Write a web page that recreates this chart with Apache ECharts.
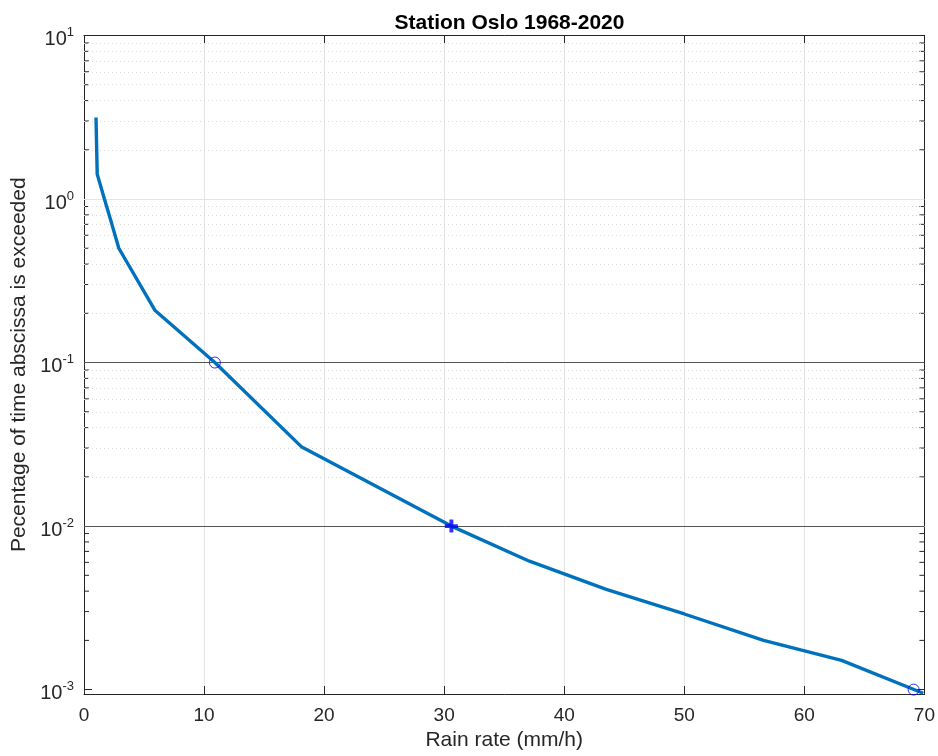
<!DOCTYPE html>
<html>
<head>
<meta charset="utf-8">
<script src="https://cdn.jsdelivr.net/npm/echarts@6/dist/echarts.min.js"></script>
<style>
html,body{margin:0;padding:0;background:#fff;}
#chart{width:938px;height:756px;}
</style>
</head>
<body>
<div id="chart"></div>
<script>
// ---- data ----
const rainRate = [1.0, 1.1, 1.7, 2.3, 2.9, 5.9, 10.9, 18.1, 30.6, 37.1, 43.5, 50.0, 56.6, 63.1, 69.9];
const percentExceeded = [3.15, 1.42, 1.0, 0.71, 0.50, 0.209, 0.1, 0.0306, 0.01, 0.0061, 0.0041, 0.0029, 0.0020, 0.00151, 0.00095];
const circlePoints = [[10.9, 0.1], [69.1, 0.001]];
const plusPoints = [[30.6, 0.01]];
const xTicks = [0, 10, 20, 30, 40, 50, 60, 70];
const decadeLines = [0.001, 0.01, 0.1];
const lightMajor = [1];
const minorGrid = [];
[0.001, 0.01, 0.1, 1].forEach(function (d) {
  [2, 3, 4, 5, 6, 7, 8, 9].forEach(function (m) { minorGrid.push(+(d * m).toPrecision(3)); });
});

const FONT = 'Liberation Sans, Arial, Helvetica, sans-serif';
const AX = '#262626';

const chart = echarts.init(document.getElementById('chart'));

function yLabel(v) {
  const e = Math.log10(v);
  const r = Math.round(e);
  if (Math.abs(e - r) > 1e-6) return '';
  return '{b|10}{s|' + r + '}';
}

const option = {
  animation: false,
  backgroundColor: '#ffffff',
  title: {
    text: 'Station Oslo 1968-2020',
    left: 504.5, textAlign: 'center', top: 8,
    textStyle: { fontFamily: FONT, fontSize: 21, fontWeight: 'bold', color: '#000' }
  },
  grid: { left: 84, right: 13, top: 35.5, bottom: 57, containLabel: false },
  xAxis: [{
    type: 'value', min: xTicks[0], max: xTicks[xTicks.length - 1], interval: 10, position: 'bottom',
    name: 'Rain rate (mm/h)', nameLocation: 'middle', nameGap: 36,
    nameTextStyle: { fontFamily: FONT, fontSize: 21, color: AX },
    axisLine: { show: true, onZero: false, lineStyle: { color: AX, width: 1 } },
    axisTick: { show: true, inside: true, length: 8, lineStyle: { color: AX } },
    axisLabel: { fontFamily: FONT, fontSize: 19, color: AX, margin: 12 },
    splitLine: { show: true, lineStyle: { color: '#e3e3e3', width: 1 } }
  }, {
    type: 'value', min: xTicks[0], max: xTicks[xTicks.length - 1], interval: 10, position: 'top',
    axisLine: { show: true, onZero: false, lineStyle: { color: AX, width: 1 } },
    axisTick: { show: true, inside: true, length: 8, lineStyle: { color: AX } },
    axisLabel: { show: false },
    splitLine: { show: false }
  }],
  yAxis: [{
    type: 'log', logBase: 10, min: 0.00094, max: 10, position: 'left',
    name: 'Pecentage of time abscissa is exceeded', nameLocation: 'middle', nameGap: 51,
    nameTextStyle: { fontFamily: FONT, fontSize: 21, color: AX },
    axisLine: { show: true, onZero: false, lineStyle: { color: AX, width: 1 } },
    axisTick: { show: true, inside: true, length: 8, lineStyle: { color: AX } },
    axisLabel: {
      formatter: yLabel, margin: 10,
      rich: {
        b: { fontFamily: FONT, fontSize: 20, color: AX, padding: [8, 0, 0, 0] },
        s: { fontFamily: FONT, fontSize: 13, color: AX, padding: [0, 0, 6, 0] }
      }
    },
    splitLine: { show: false }
  }, {
    type: 'log', logBase: 10, min: 0.00094, max: 10, position: 'right',
    axisLine: { show: true, onZero: false, lineStyle: { color: AX, width: 1 } },
    axisTick: { show: true, inside: true, length: 8, lineStyle: { color: AX } },
    axisLabel: { show: false },
    splitLine: { show: false }
  }],
  series: [
    {
      type: 'line', name: 'grid', data: [], silent: true, z: 1,
      markLine: {
        silent: true, symbol: 'none', label: { show: false }, animation: false,
        data: minorGrid.map(function (v) {
          return { yAxis: v, lineStyle: { color: '#d6d6d6', type: [1, 3], width: 1 } };
        }).concat(lightMajor.map(function (v) {
          return { yAxis: v, lineStyle: { color: '#e3e3e3', type: 'solid', width: 1 } };
        }))
      }
    },
    {
      type: 'custom', name: 'minorTicks', silent: true, z: 3, clip: false,
      data: minorGrid.map(function (v) { return [0, v]; }),
      renderItem: function (params, api) {
        const v = api.value(1);
        const p = api.coord([0, v]);
        const q = api.coord([70, v]);
        return {
          type: 'group',
          children: [
            { type: 'line', shape: { x1: p[0], y1: p[1], x2: p[0] + 5, y2: p[1] }, style: { stroke: AX, lineWidth: 1 } },
            { type: 'line', shape: { x1: q[0] - 5, y1: q[1], x2: q[0], y2: q[1] }, style: { stroke: AX, lineWidth: 1 } }
          ]
        };
      }
    },
    {
      type: 'line', name: 'decades', data: [], silent: true, z: 2,
      markLine: {
        silent: true, symbol: 'none', label: { show: false }, animation: false,
        data: decadeLines.map(function (v) {
          return { yAxis: v, lineStyle: { color: '#555555', type: 'solid', width: 1 } };
        })
      }
    },
    {
      type: 'line', name: 'Oslo',
      data: rainRate.map(function (x, i) { return [x, percentExceeded[i]]; }),
      showSymbol: false, symbol: 'none', z: 5,
      lineStyle: { color: '#0072BD', width: 3.4 }
    },
    {
      type: 'scatter', name: 'circles', data: circlePoints, z: 6,
      symbol: 'circle', symbolSize: 11,
      itemStyle: { color: 'rgba(0,0,0,0)', borderColor: '#0000ff', borderWidth: 1 }
    },
    {
      type: 'scatter', name: 'plus', data: plusPoints, z: 6,
      symbol: 'path://M3.5,0H6.5V3.5H10V6.5H6.5V10H3.5V6.5H0V3.5H3.5Z', symbolSize: 13,
      itemStyle: { color: '#0000ff' }
    }
  ]
};
chart.setOption(option);
</script>
</body>
</html>
